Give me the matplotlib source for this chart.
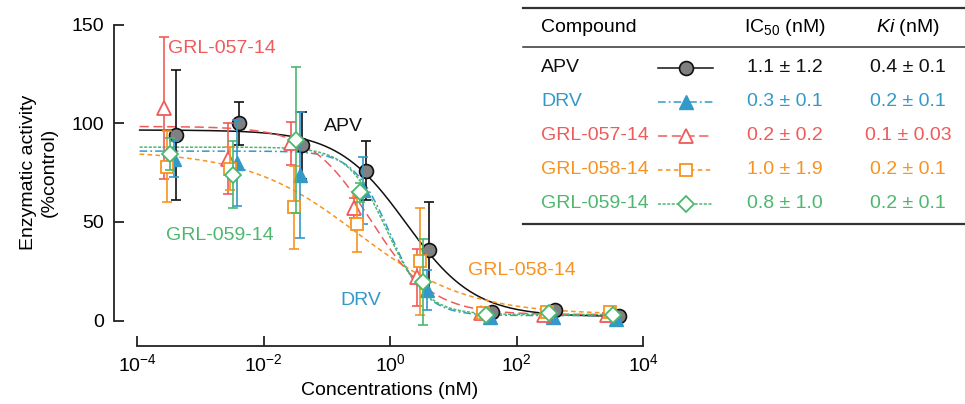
import numpy as np
import matplotlib
matplotlib.use("Agg")
import matplotlib.pyplot as plt

plt.rcParams["font.family"] = ["Liberation Sans", "DejaVu Sans"]
plt.rcParams["mathtext.fontset"] = "custom"
plt.rcParams["mathtext.rm"] = "Liberation Sans"
plt.rcParams["mathtext.it"] = "Liberation Sans:italic"

# nominal concentrations (nM)
conc = [3e-4, 3e-3, 3e-2, 3e-1, 3e0, 3e1, 3e2, 3e3]

compounds = ["APV", "DRV", "GRL-057-14", "GRL-058-14", "GRL-059-14"]

apv_mean = [94, 100, 89, 76, 36, 4.5, 5.3, 2.5]
apv_err = [33, 11, 17, 15, 24, 1, 1, 1]
drv_mean = [82, 80, 74, 66, 15.5, 2, 1.6, 0.6]
drv_err = [9, 22, 32, 17, 10, 1, 1, 1]
grl057_mean = [108, 82, 90, 57, 22, 3.7, 2.8, 2.8]
grl057_err = [36, 18, 11, 5, 14.5, 1, 1, 1]
grl058_mean = [78, 77, 57.5, 49, 30, 4, 4.5, 4.5]
grl058_err = [18, 11, 21, 14, 27, 1, 1, 1]
grl059_mean = [84.5, 74, 91.5, 65, 19.5, 3, 4, 3]
grl059_err = [8, 17, 37, 5, 22, 1, 1, 1]

# fitted curve parameters: top, bottom, IC50 (nM), Hill slope
fit_top = [96.7, 86, 98.5, 86, 88]
fit_bottom = [2, 2.5, 3, 3, 3]
fit_ic50 = [1.8, 1.0, 0.5, 0.3, 0.9]
fit_hill = [0.8, 1.5, 0.9, 0.5, 1.4]

ic50_text = ["1.1 \u00b1 1.2", "0.3 \u00b1 0.1", "0.2 \u00b1 0.2", "1.0 \u00b1 1.9", "0.8 \u00b1 1.0"]
ki_text = ["0.4 \u00b1 0.1", "0.2 \u00b1 0.1", "0.1 \u00b1 0.03", "0.2 \u00b1 0.1", "0.2 \u00b1 0.1"]

means = [apv_mean, drv_mean, grl057_mean, grl058_mean, grl059_mean]
errs = [apv_err, drv_err, grl057_err, grl058_err, grl059_err]

colors = ["#111111", "#3399C8", "#EF5B5B", "#F7931E", "#4BB86E"]
markers = ["o", "^", "^", "s", "D"]
msizes = [10, 10, 10, 8.5, 8.5]
mfaces = ["#808080", "#3399C8", "white", "white", "white"]
mlw = [1.2, 1.0, 1.3, 1.3, 1.3]
lstyles = ["-", (0, (5, 2, 1.2, 2)), (0, (6, 3)), (0, (3, 2.2)), (0, (2, 1))]
dodge = [1.37, 1.27, 0.9, 1.0, 1.1]
draw_order = [0, 1, 3, 2, 4]
fs = 14

fig = plt.figure(figsize=(9.65, 4.04), dpi=100)
W, H = 965, 404
ax = fig.add_axes([137 / W, 1 - 320.5 / H, 506 / W, 295.5 / H])
ax.set_xscale("log")
ax.set_xlim(1e-4, 1e4)
ax.set_ylim(0, 150)

xc = np.logspace(np.log10(1.1e-4), np.log10(4.5e3), 400)
for i in draw_order:
    c = colors[i]
    yc = fit_bottom[i] + (fit_top[i] - fit_bottom[i]) / (1 + (xc / fit_ic50[i]) ** fit_hill[i])
    ax.plot(xc, yc, color=c, lw=1.1, ls=lstyles[i], zorder=2)

for i in draw_order:
    c = colors[i]
    x = np.array(conc) * dodge[i]
    ax.errorbar(x, means[i], yerr=errs[i], fmt="none", ecolor=c, elinewidth=1.2,
                capsize=3.6, capthick=1.2, clip_on=False, zorder=3 + i)
    ax.plot(x, means[i], ls="none", marker=markers[i], ms=msizes[i], mfc=mfaces[i],
            mec=c, mew=mlw[i], clip_on=False, zorder=3.5 + i)

for s in ["top", "right"]:
    ax.spines[s].set_visible(False)
ax.spines["left"].set_position(("outward", 16.5))
ax.spines["bottom"].set_position(("outward", 18.5))
ax.spines["left"].set_bounds(0, 150)
ax.spines["bottom"].set_bounds(1e-4, 1e4)
for s in ["left", "bottom"]:
    ax.spines[s].set_linewidth(1.3)
    ax.spines[s].set_color("#222222")

ax.set_yticks([0, 50, 100, 150])
ax.set_xticks([1e-4, 1e-2, 1e0, 1e2, 1e4])
ax.set_xticklabels(["$10^{-4}$", "$10^{-2}$", "$10^{0}$", "$10^{2}$", "$10^{4}$"])
ax.xaxis.set_minor_locator(matplotlib.ticker.NullLocator())
ax.tick_params(axis="both", direction="in", length=7, width=1.3, labelsize=fs, color="#222222")
ax.tick_params(axis="y", pad=7)
ax.tick_params(axis="x", pad=5)

ax.set_xlabel("Concentrations (nM)", fontsize=fs, labelpad=5)
ax.set_ylabel("Enzymatic activity\n(%control)", fontsize=fs, labelpad=10, linespacing=1.3)

# curve labels
ax.text(3.1e-4, 138, "GRL-057-14", color=colors[2], fontsize=fs, va="center")
ax.text(0.089, 98.7, "APV", color=colors[0], fontsize=fs, va="center")
ax.text(2.9e-4, 43.4, "GRL-059-14", color=colors[4], fontsize=fs, va="center")
ax.text(0.166, 10, "DRV", color=colors[1], fontsize=fs, va="center")
ax.text(17.4, 25.6, "GRL-058-14", color=colors[3], fontsize=fs, va="center")

# table with the legend
tab = fig.add_axes([0, 0, 1, 1])
tab.set_xlim(0, W)
tab.set_ylim(H, 0)
tab.axis("off")
tab.plot([523, 965], [8, 8], color="#333333", lw=1.6)
tab.plot([523, 965], [47, 47], color="#333333", lw=1.1)
tab.plot([523, 965], [224, 224], color="#333333", lw=1.6)
tab.text(541, 27, "Compound", fontsize=fs, va="center")
tab.text(785, 27, "IC$_{50}$ (nM)", fontsize=fs, va="center", ha="center")
tab.text(908, 27, "$Ki$ (nM)", fontsize=fs, va="center", ha="center")
row_y = [68, 102, 136, 170, 204]
for i in range(5):
    c = colors[i]
    y = row_y[i]
    tab.text(541, y, compounds[i], color=c, fontsize=fs, va="center")
    tab.plot([658, 713], [y, y], color=c, lw=1.1, ls=lstyles[i])
    tab.plot([686], [y], ls="none", marker=markers[i], ms=msizes[i], mfc=mfaces[i],
             mec=c, mew=mlw[i])
    tab.text(785, y, ic50_text[i], color=c, fontsize=fs, va="center", ha="center")
    tab.text(908, y, ki_text[i], color=c, fontsize=fs, va="center", ha="center")

fig.savefig("out.png", dpi=100)
